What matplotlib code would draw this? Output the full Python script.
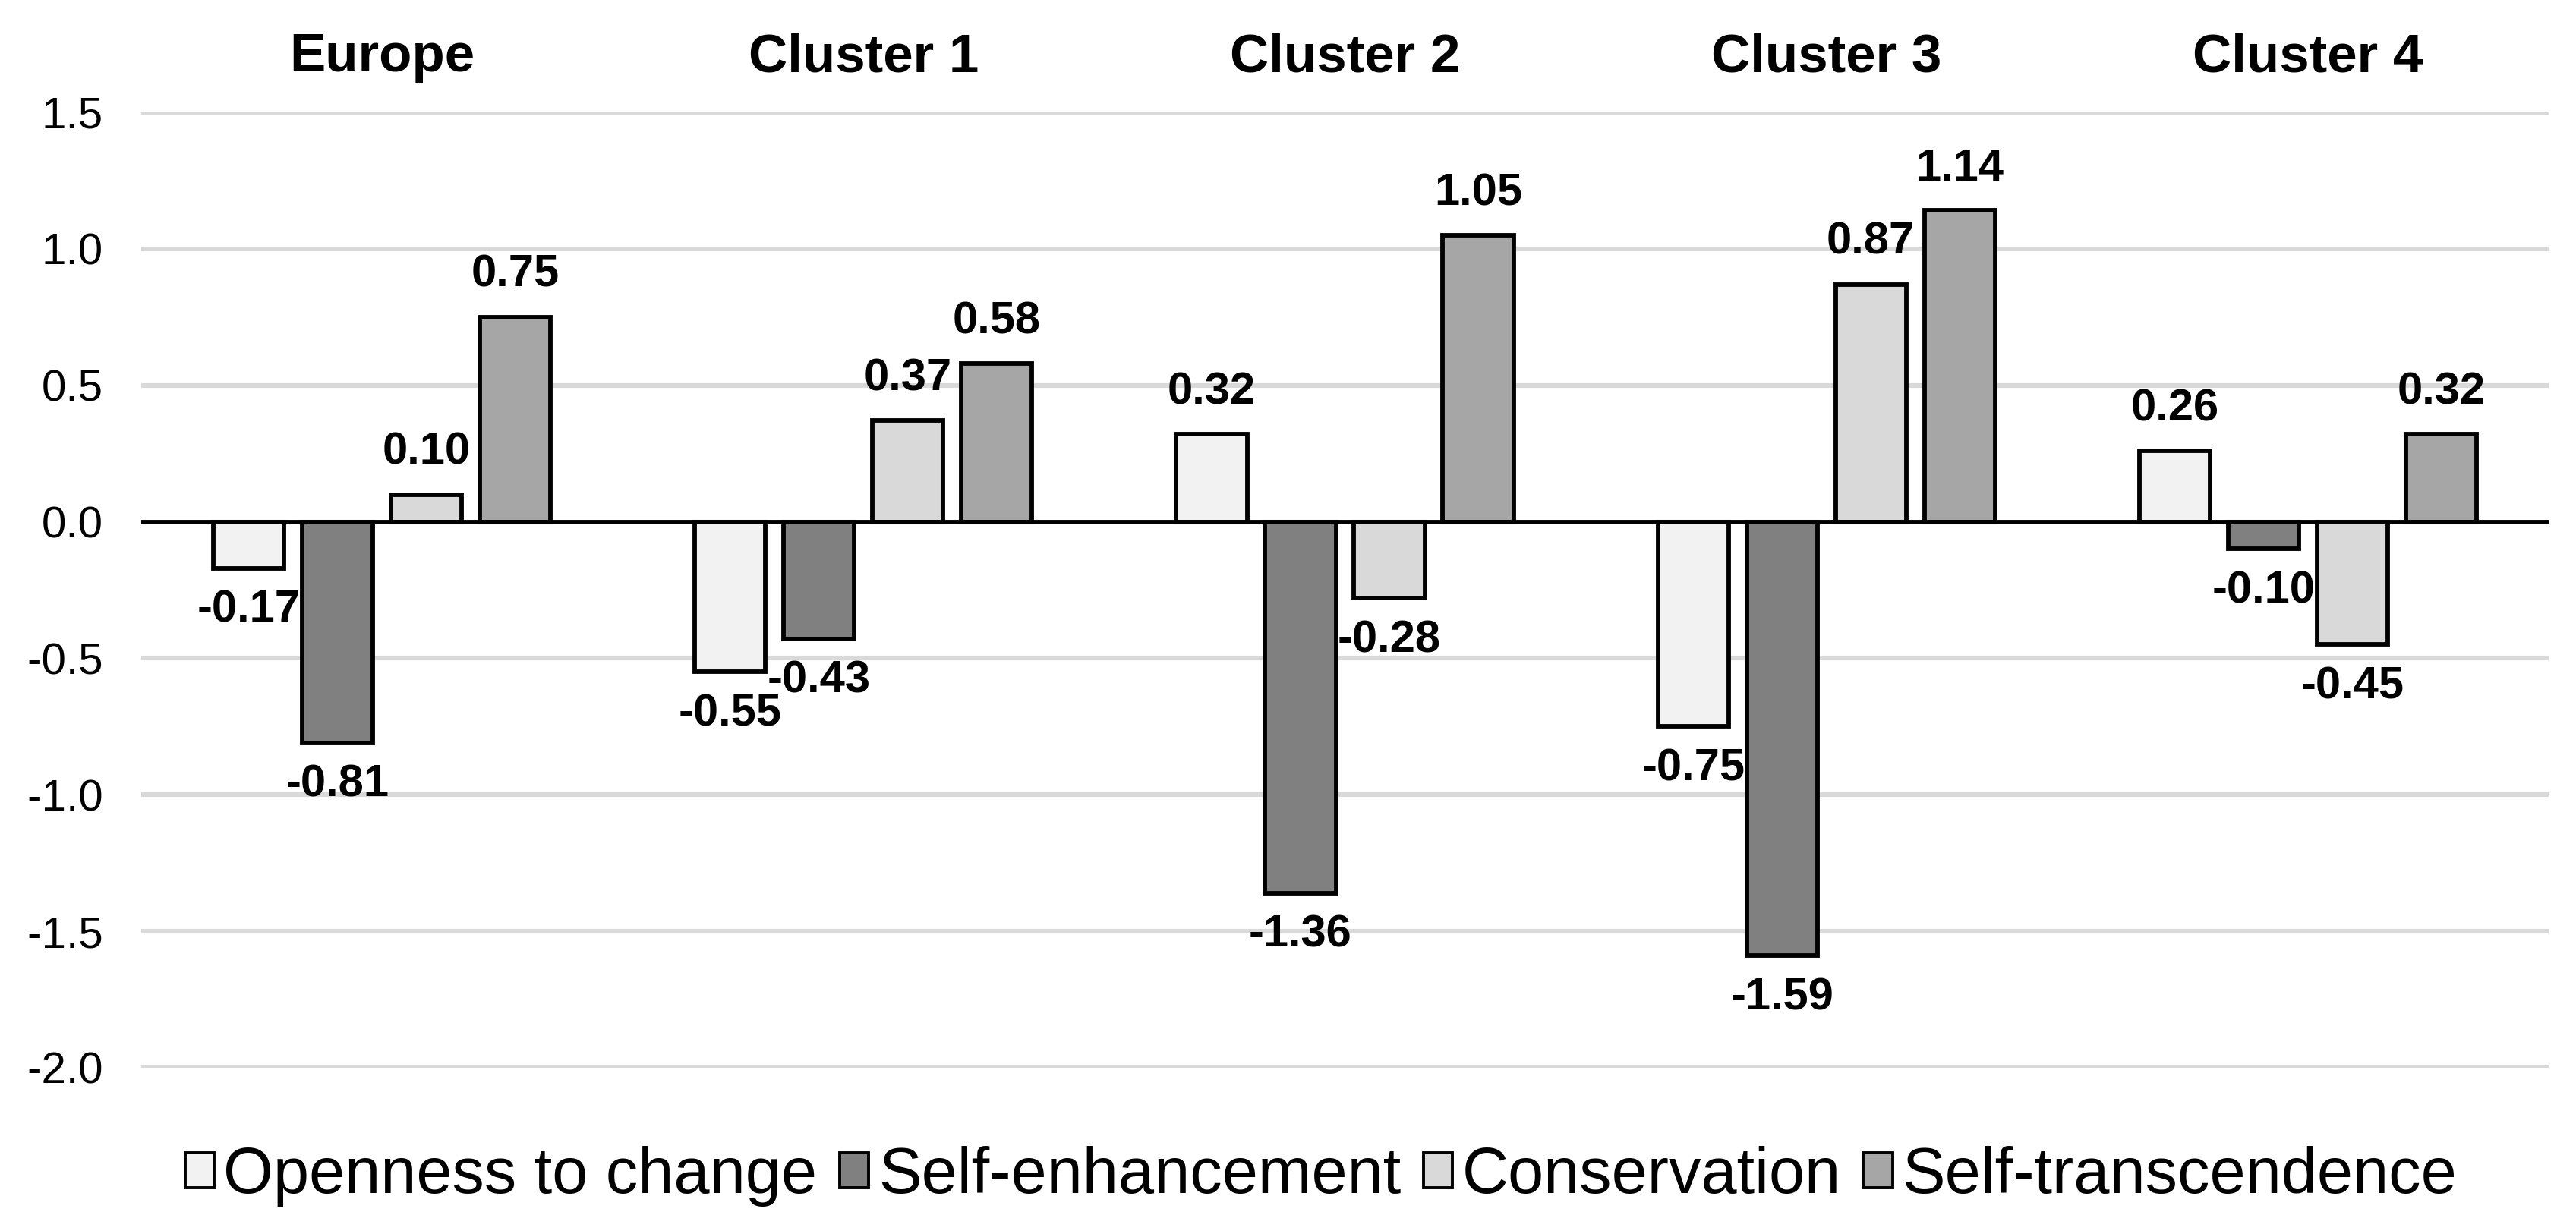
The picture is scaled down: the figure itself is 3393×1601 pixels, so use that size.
import numpy as np
import matplotlib
matplotlib.use("Agg")
import matplotlib.pyplot as plt

groups = ["Europe", "Cluster 1", "Cluster 2", "Cluster 3", "Cluster 4"]
series = ["Openness to change", "Self-enhancement", "Conservation", "Self-transcendence"]
openness = [-0.17, -0.55, 0.32, -0.75, 0.26]
enhancement = [-0.81, -0.43, -1.36, -1.59, -0.10]
conservation = [0.10, 0.37, -0.28, 0.87, -0.45]
transcendence = [0.75, 0.58, 1.05, 1.14, 0.32]
yticks = [1.5, 1.0, 0.5, 0.0, -0.5, -1.0, -1.5, -2.0]

colors = ["#f2f2f2", "#808080", "#d9d9d9", "#a6a6a6"]

plt.rcParams["font.family"] = ["Liberation Sans", "DejaVu Sans"]

fig = plt.figure(figsize=(16.965, 8.005), dpi=200)
ax = fig.add_axes([0.0548, 0.1212, 0.9346, 0.7864])

x = np.arange(len(groups))
pitch = 0.1845
width = 0.147
values = [openness, enhancement, conservation, transcendence]

for i, (name, vals) in enumerate(zip(series, values)):
    pos = x + (i - 1.5) * pitch
    bars = ax.bar(pos, vals, width, color=colors[i], edgecolor="black",
                  linewidth=2.1, label=name, zorder=3)
    for b, v in zip(bars, vals):
        cx = b.get_x() + b.get_width() / 2
        if v >= 0:
            ax.annotate(f"{v:.2f}", (cx, v), xytext=(0, 10), textcoords="offset points",
                        ha="center", va="bottom", fontsize=21.5, fontweight="bold")
        else:
            ax.annotate(f"{v:.2f}", (cx, v), xytext=(0, -10), textcoords="offset points",
                        ha="center", va="top", fontsize=21.5, fontweight="bold")

ax.axhline(0, color="black", linewidth=2.1, zorder=4)

ax.set_xlim(-0.5, len(groups) - 0.5)
ax.set_ylim(-2.0, 1.5)
ax.set_yticks(yticks)
ax.set_yticklabels([f"{t:.1f}" for t in yticks], fontsize=21)
ax.yaxis.grid(True, color="#d9d9d9", linewidth=2.2, zorder=0)
ax.tick_params(axis="y", length=0, pad=18)

ax.xaxis.tick_top()
ax.set_xticks(x)
ax.set_xticklabels(groups, fontsize=25.5, fontweight="bold")
ax.tick_params(axis="x", length=0, pad=14)

for s in ax.spines.values():
    s.set_visible(False)

ax.legend(loc="upper center", bbox_to_anchor=(0.49, -0.055), ncol=4, frameon=False,
          fontsize=30.5, handlelength=0.45, handleheight=0.45, handletextpad=0.15,
          columnspacing=0.35, borderaxespad=0)
for h in ax.get_legend().legend_handles:
    h.set_linewidth(1.4)

fig.savefig("out.png", dpi=200)
